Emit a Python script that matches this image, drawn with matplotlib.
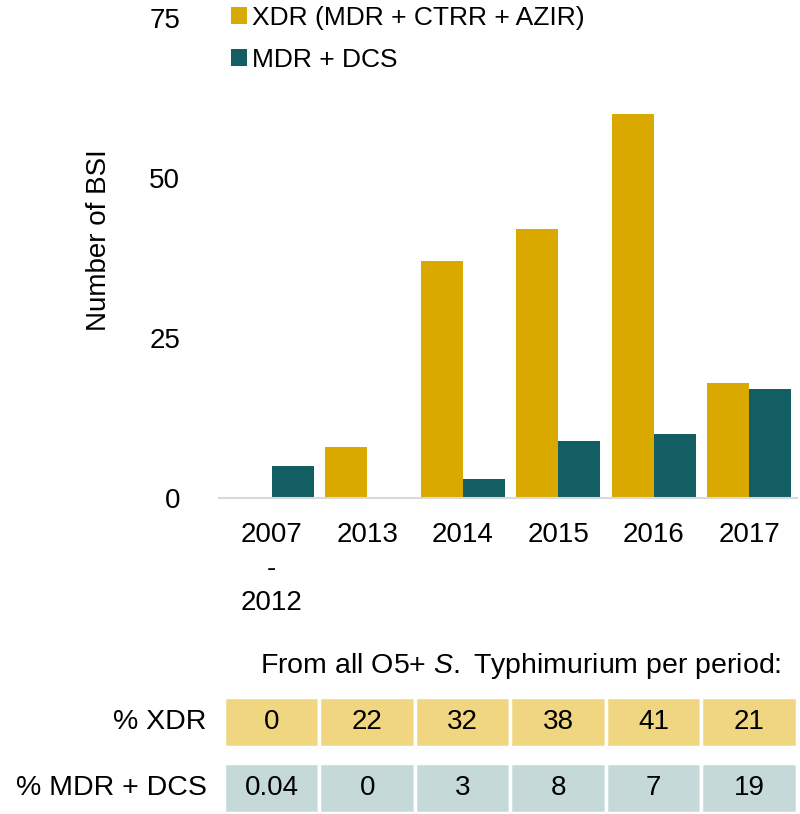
import matplotlib
matplotlib.use('Agg')
import matplotlib.pyplot as plt
import numpy as np

plt.rcParams['font.family'] = ['Liberation Sans', 'DejaVu Sans']
plt.rcParams['mathtext.fontset'] = 'custom'
plt.rcParams['mathtext.rm'] = 'Liberation Sans'
plt.rcParams['mathtext.it'] = 'Liberation Sans:italic'

# data
periods = ['2007\n-\n2012', '2013', '2014', '2015', '2016', '2017']
xdr = [0, 8, 37, 42, 60, 18]
mdr_dcs = [5, 0, 3, 9, 10, 17]
pct_xdr = ['0', '22', '32', '38', '41', '21']
pct_mdr_dcs = ['0.04', '0', '3', '8', '7', '19']

yellow = '#D9A900'
teal = '#125E63'
light_yellow = '#F0D680'
light_teal = '#C6D9D9'

fig = plt.figure(figsize=(8, 8.14), dpi=100)
ax = fig.add_axes([0.274, 0.388, 0.722, 0.59])

x = np.arange(len(periods))
w = 0.44
ax.bar(x - w / 2, xdr, w, color=yellow, label='XDR (MDR + CTRR + AZIR)')
ax.bar(x + w / 2, mdr_dcs, w, color=teal, label='MDR + DCS')

ax.set_xlim(-0.55, 5.5)
ax.set_ylim(0, 75)
ax.set_yticks([0, 25, 50, 75])
ax.set_xticks(x)
ax.set_xticklabels(periods, linespacing=1.4)
ax.tick_params(axis='both', length=0, labelsize=20)
ax.tick_params(axis='x', pad=17)
ax.tick_params(axis='y', pad=28)
for s in ['top', 'right', 'left']:
    ax.spines[s].set_visible(False)
ax.spines['bottom'].set_color('#d9d9d9')
ax.spines['bottom'].set_linewidth(1.5)

ax.set_ylabel('Number of BSI', fontsize=20)
ax.yaxis.set_label_coords(-0.185, 0.537)

ax.legend(loc='upper left', bbox_to_anchor=(0.289, 0.993), bbox_transform=fig.transFigure,
          frameon=False, fontsize=19, handlelength=0.6, handleheight=0.6,
          handletextpad=0.2, labelspacing=0.68, borderpad=0, borderaxespad=0)

# table below
tab = fig.add_axes([0.274, 0.001, 0.722, 0.1425])
tab.set_xlim(-0.55, 5.5)
tab.set_ylim(0, 2.32)
tab.axis('off')
tab.bar(x, [1] * 6, 1.0, bottom=1.32, color=light_yellow,
        edgecolor='white', linewidth=2.5)
tab.bar(x, [1] * 6, 1.0, bottom=0, color=light_teal,
        edgecolor='white', linewidth=2.5)
for i in range(len(periods)):
    tab.text(i, 1.82, pct_xdr[i], ha='center', va='center', fontsize=20)
    tab.text(i, 0.5, pct_mdr_dcs[i], ha='center', va='center', fontsize=20)
tab.text(-0.68, 1.82, '% XDR', ha='right', va='center', fontsize=20.5)
tab.text(-0.68, 0.5, '% MDR + DCS', ha='right', va='center', fontsize=20.5)

fig.text(0.977, 1 - 666 / 814, r'From all O5+ $\mathit{S.}$ Typhimurium per period:',
         ha='right', va='center', fontsize=20.5)

fig.savefig('out.png', dpi=100)
